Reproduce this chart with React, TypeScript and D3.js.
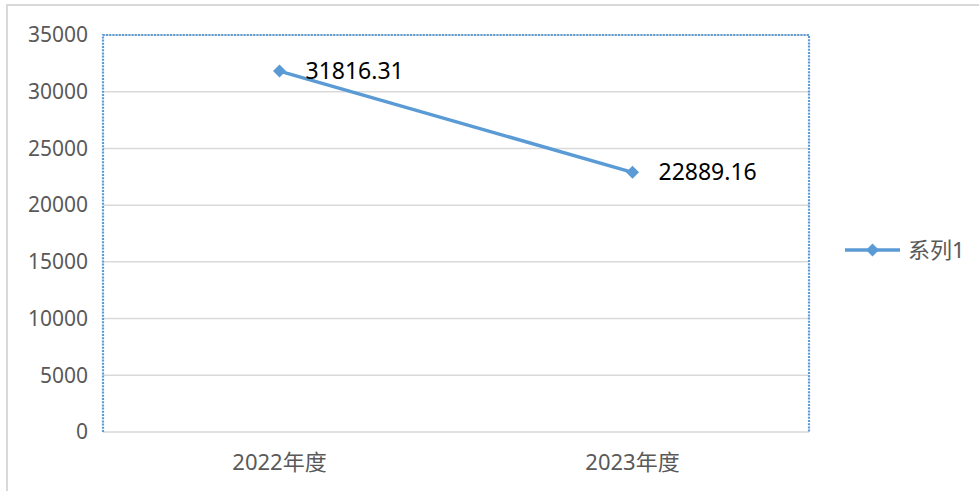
import React, { useMemo } from "react";
import * as d3 from "d3";

const WIDTH = 979;
const HEIGHT = 491;
const MARGIN = { top: 35, right: 170, bottom: 59, left: 103 };

const categories = ["2022年度", "2023年度"];
const values = [31816.31, 22889.16];
const valueLabels = ["31816.31", "22889.16"];
const yTicks = [0, 5000, 10000, 15000, 20000, 25000, 30000, 35000];
const seriesName = "系列1";

const LINE_COLOR = "#5B9BD5";
const FONT = "'Noto Sans', 'Noto Sans CJK SC', sans-serif";

export const App = () => {
  const boundsWidth = WIDTH - MARGIN.left - MARGIN.right;
  const boundsHeight = HEIGHT - MARGIN.top - MARGIN.bottom;

  const xScale = useMemo(
    () => d3.scaleBand().domain(categories).range([0, boundsWidth]),
    [boundsWidth]
  );
  const yScale = useMemo(
    () => d3.scaleLinear().domain([0, 35000]).range([boundsHeight, 0]),
    [boundsHeight]
  );

  const cx = (c: string) => (xScale(c) ?? 0) + xScale.bandwidth() / 2;
  const linePath = d3
    .line<number>()
    .x((_, i) => cx(categories[i]))
    .y((d) => yScale(d))(values);

  const diamond = (x: number, y: number, r: number) =>
    `M${x},${y - r}L${x + r},${y}L${x},${y + r}L${x - r},${y}Z`;

  return (
    <svg
      width={WIDTH}
      height={HEIGHT}
      style={{ position: "absolute", left: 0, top: 0, background: "#fff" }}
      fontFamily={FONT}
    >
      {/* chart frame, runs off the right and bottom edges */}
      <rect x={7} y={5} width={990} height={500} fill="#fff" stroke="#d9d9d9" strokeWidth={2} />

      <g transform={`translate(${MARGIN.left},${MARGIN.top})`}>
        {/* gridlines */}
        {yTicks.map((t) => (
          <line key={t} x1={0} x2={boundsWidth} y1={yScale(t)} y2={yScale(t)} stroke="#d9d9d9" strokeWidth={1.5} />
        ))}
        {/* dotted plot border */}
        <path
          d={`M0,${boundsHeight}V0H${boundsWidth}V${boundsHeight}`}
          fill="none"
          stroke={LINE_COLOR}
          strokeWidth={2.2}
          strokeDasharray="2,1.2"
        />
        {/* y labels */}
        {yTicks.map((t) => (
          <text key={t} x={-15} y={yScale(t)} dy="0.35em" textAnchor="end" fontSize={21} fill="#595959">
            {t}
          </text>
        ))}
        {/* x labels */}
        {categories.map((c) => (
          <text key={c} x={cx(c)} y={boundsHeight + 30} dy="0.35em" textAnchor="middle" fontSize={22} fill="#595959">
            {c}
          </text>
        ))}
        {/* series */}
        <path d={linePath ?? ""} fill="none" stroke={LINE_COLOR} strokeWidth={3.5} strokeLinejoin="round" />
        {values.map((v, i) => (
          <g key={i}>
            <path d={diamond(cx(categories[i]), yScale(v), 6.5)} fill={LINE_COLOR} />
            <text x={cx(categories[i]) + 26} y={yScale(v)} dy="0.35em" fontSize={23} fill="#000">
              {valueLabels[i]}
            </text>
          </g>
        ))}
      </g>

      {/* legend */}
      <g transform="translate(845,250)">
        <line x1={0} x2={55} y1={0} y2={0} stroke={LINE_COLOR} strokeWidth={3.5} />
        <path d={diamond(27.5, 0, 6.5)} fill={LINE_COLOR} />
        <text x={63} y={0} dy="0.35em" fontSize={22} fill="#595959">
          {seriesName}
        </text>
      </g>
    </svg>
  );
};

export default App;
